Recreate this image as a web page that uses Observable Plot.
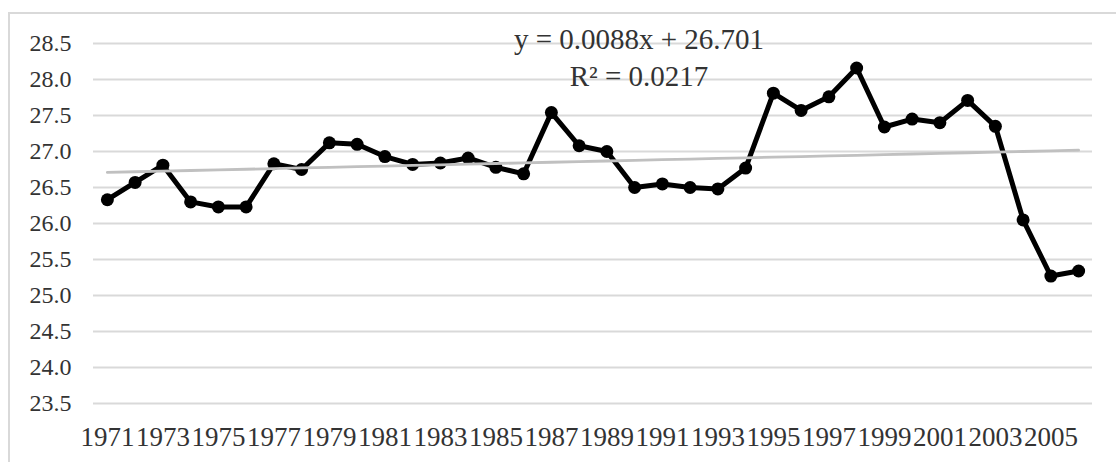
<!DOCTYPE html>
<html>
<head>
<meta charset="utf-8">
<script src="https://cdn.jsdelivr.net/npm/d3@7"></script>
<script src="https://cdn.jsdelivr.net/npm/@observablehq/plot@0.6"></script>
<style>
  html, body { margin: 0; padding: 0; background: #fff; overflow: hidden; }
  #wrap { position: relative; width: 1116px; height: 462px; }
  #frame {
    position: absolute; left: 8px; top: 12px; width: 2000px; height: 1000px;
    border-top: 2px solid #d9d9d9; border-left: 2px solid #d9d9d9; box-sizing: border-box;
  }
  #chart { position: absolute; left: 0; top: 0; }
</style>
</head>
<body>
<div id="wrap">
  <div id="frame"></div>
  <div id="chart"></div>
</div>
<script>
// Annual series, 1971–2006
const years = [
  1971, 1972, 1973, 1974, 1975, 1976, 1977, 1978, 1979, 1980,
  1981, 1982, 1983, 1984, 1985, 1986, 1987, 1988, 1989, 1990,
  1991, 1992, 1993, 1994, 1995, 1996, 1997, 1998, 1999, 2000,
  2001, 2002, 2003, 2004, 2005, 2006
];
const values = [
  26.33, 26.57, 26.81, 26.30, 26.23, 26.23, 26.83, 26.75, 27.12, 27.10,
  26.93, 26.82, 26.84, 26.91, 26.78, 26.69, 27.54, 27.08, 27.00, 26.50,
  26.55, 26.50, 26.48, 26.77, 27.81, 27.57, 27.76, 28.16, 27.34, 27.45,
  27.40, 27.71, 27.35, 26.05, 25.27, 25.34
];

// Linear trend (x = 1, 2, … over the series) and its fit
const slope = 0.0088;
const intercept = 26.701;
const rSquared = 0.0217;

// Axis ticks
const yTicks = [23.5, 24.0, 24.5, 25.0, 25.5, 26.0, 26.5, 27.0, 27.5, 28.0, 28.5];
const xTickYears = years.filter((y, i) => i % 2 === 0);

const series = years.map((year, i) => ({ year, value: values[i] }));
const trend = years.map((year, i) => ({ year, value: slope * (i + 1) + intercept }));

const serif = "'Liberation Serif', 'DejaVu Serif', serif";
const ink = "#333333";

const chart = Plot.plot({
  width: 1116,
  height: 462,
  marginLeft: 93,
  marginRight: 24,
  marginTop: 43,
  marginBottom: 59,
  style: { fontFamily: serif, color: ink, background: "transparent", overflow: "visible" },
  // each year sits in the middle of its own one-year slot
  x: { domain: [years[0] - 0.5, years[years.length - 1] + 0.5] },
  y: { domain: [23.5, 28.5] },
  marks: [
    Plot.ruleY(yTicks, { stroke: "#d9d9d9", strokeWidth: 2 }),
    Plot.axisY({
      ticks: yTicks, tickSize: 0, tickPadding: 22, tickFormat: d3.format(".1f"),
      fontSize: 24, fill: ink, label: null
    }),
    Plot.axisX({
      ticks: xTickYears, tickSize: 0, tickPadding: 23, tickFormat: d => String(d),
      fontSize: 27, fill: ink, label: null
    }),
    Plot.line(series, {
      x: "year", y: "value", stroke: "#000", strokeWidth: 5,
      strokeLinejoin: "round", strokeLinecap: "round"
    }),
    Plot.dot(series, { x: "year", y: "value", r: 6.5, fill: "#000", stroke: "none" }),
    Plot.line(trend, { x: "year", y: "value", stroke: "#c0c0c0", strokeWidth: 2.8 }),
    Plot.text([`y = ${slope}x + ${intercept}`], {
      frameAnchor: "top", lineAnchor: "bottom", dx: 46, dy: 5,
      fontSize: 29, fill: ink, textAnchor: "middle"
    }),
    Plot.text([`R² = ${rSquared}`], {
      frameAnchor: "top", lineAnchor: "bottom", dx: 46, dy: 42,
      fontSize: 29, fill: ink, textAnchor: "middle"
    })
  ]
});

document.getElementById("chart").appendChild(chart);
</script>
</body>
</html>
